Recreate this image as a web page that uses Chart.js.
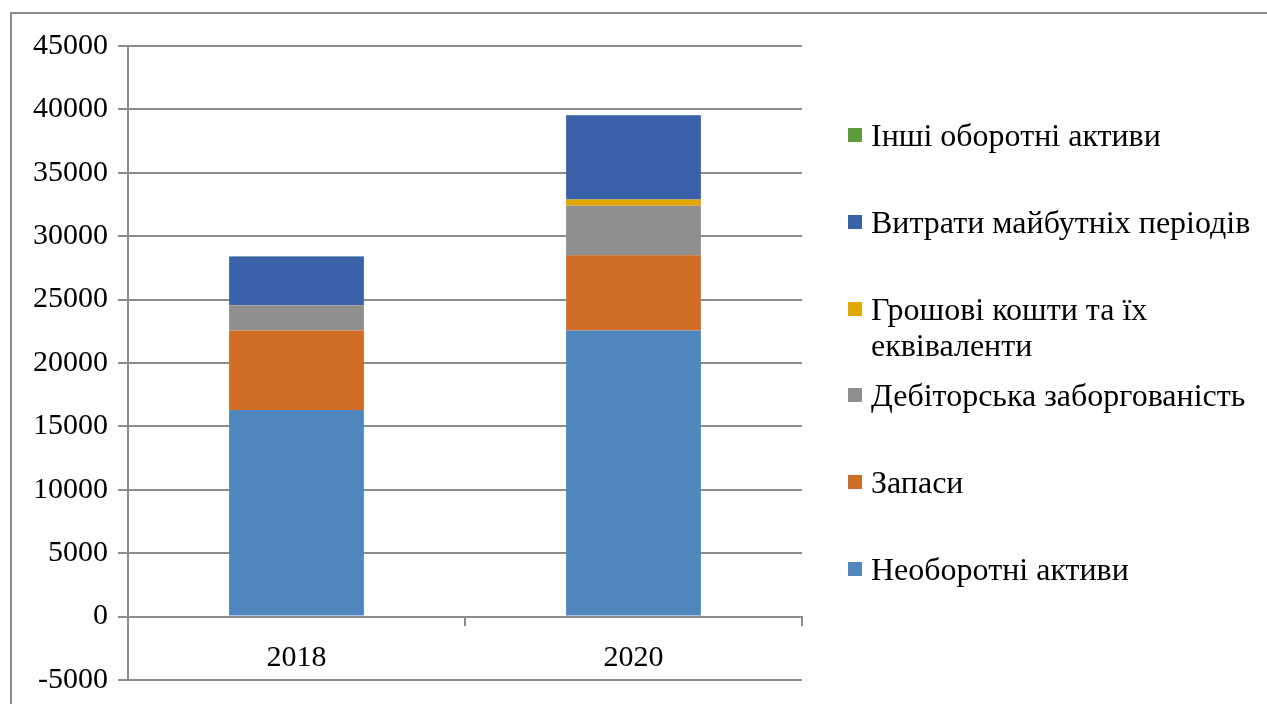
<!DOCTYPE html>
<html>
<head>
<meta charset="utf-8">
<script src="https://cdn.jsdelivr.net/npm/chart.js@4.4.0/dist/chart.umd.min.js"></script>
<style>
  html, body { margin: 0; padding: 0; background: #fff; overflow: hidden; }
  #wrap { position: relative; width: 1267px; height: 704px; }
  #frame { position: absolute; left: 10px; top: 12px; width: 1300px; height: 740px; border: 2px solid #8c8c8c; box-sizing: border-box; }
  #box { position: absolute; left: 0; top: 0; width: 1267px; height: 704px; }
  #legend { position: absolute; left: 848px; top: 117px; font-family: "Liberation Serif", "Times New Roman", serif; font-size: 32px; color: #000; }
  .item { display: flex; align-items: flex-start; line-height: 36px; margin-bottom: 51px; }
  .item .sw { width: 14px; height: 14px; margin-top: 11px; margin-right: 9px; flex: none; }
  .item .tx { width: 395px; }
</style>
</head>
<body>
<div id="wrap">
  <div id="frame"></div>
  <div id="box"><canvas id="assetsChart"></canvas></div>
  <div id="legend"></div>
</div>
<script>
// chart data
var years = ["2018", "2020"];
var seriesNames = ["Необоротні активи", "Запаси", "Дебіторська заборгованість", "Грошові кошти та їх еквіваленти", "Витрати майбутніх періодів", "Інші оборотні активи"];
var nonCurrent = [16300, 22570];
var stocks = [6270, 5920];
var receivables = [1980, 3920];
var cash = [30, 480];
var deferred = [3820, 6650];
var otherCurrent = [20, 20];
var yTicks = [-5000, 0, 5000, 10000, 15000, 20000, 25000, 30000, 35000, 40000, 45000];

var colors = ['#4e86bd', '#d06d27', '#8f8f8f', '#e0a800', '#3b62a9', '#5e9a3e'];
var values = [nonCurrent, stocks, receivables, cash, deferred, otherCurrent];

Chart.defaults.font.family = '"Liberation Serif", "Times New Roman", serif';
Chart.defaults.color = '#000';

var ctx = document.getElementById("assetsChart").getContext('2d');
var assetsChart = new Chart(ctx, {
    type: 'bar',
    data: {
        labels: years,
        datasets: seriesNames.map(function (name, i) {
            return {
                label: name,
                data: values[i],
                backgroundColor: colors[i],
                borderWidth: 0,
                barPercentage: 1,
                categoryPercentage: 0.4
            };
        })
    },
    options: {
        responsive: true,
        maintainAspectRatio: false,
        animation: false,
        layout: { padding: { left: 0, top: 46, right: 465, bottom: 24 } },
        plugins: { legend: { display: false }, tooltip: { enabled: false } },
        scales: {
            x: {
                stacked: true,
                position: { y: 0 },
                grid: { drawOnChartArea: false, drawTicks: true, tickLength: 8, offset: true, color: '#8c8c8c', lineWidth: 2 },
                border: { display: true, color: '#8c8c8c', width: 2 },
                ticks: { font: { size: 30 }, padding: 16, color: '#000' }
            },
            y: {
                stacked: true,
                min: -5000,
                max: 45000,
                afterFit: function (scale) {
                    scale.width = 128;
                    scale.paddingTop = 0;
                    scale.paddingBottom = 0;
                },
                afterBuildTicks: function (scale) {
                    scale.ticks = yTicks.map(function (v) { return { value: v }; });
                },
                grid: { color: '#8c8c8c', lineWidth: 2, tickLength: 10 },
                border: { display: true, color: '#8c8c8c', width: 2 },
                ticks: {
                    font: { size: 30 }, padding: 10, color: '#000',
                    callback: function (v) { return String(v); }
                }
            }
        }
    }
});

// legend, reversed like the original
var legend = document.getElementById('legend');
for (var i = seriesNames.length - 1; i >= 0; i--) {
    var item = document.createElement('div');
    item.className = 'item';
    var sw = document.createElement('span');
    sw.className = 'sw';
    sw.style.background = colors[i];
    var tx = document.createElement('span');
    tx.className = 'tx';
    tx.textContent = seriesNames[i];
    item.appendChild(sw);
    item.appendChild(tx);
    if (i === 3) item.style.marginBottom = '14px';
    legend.appendChild(item);
}
</script>
</body>
</html>
